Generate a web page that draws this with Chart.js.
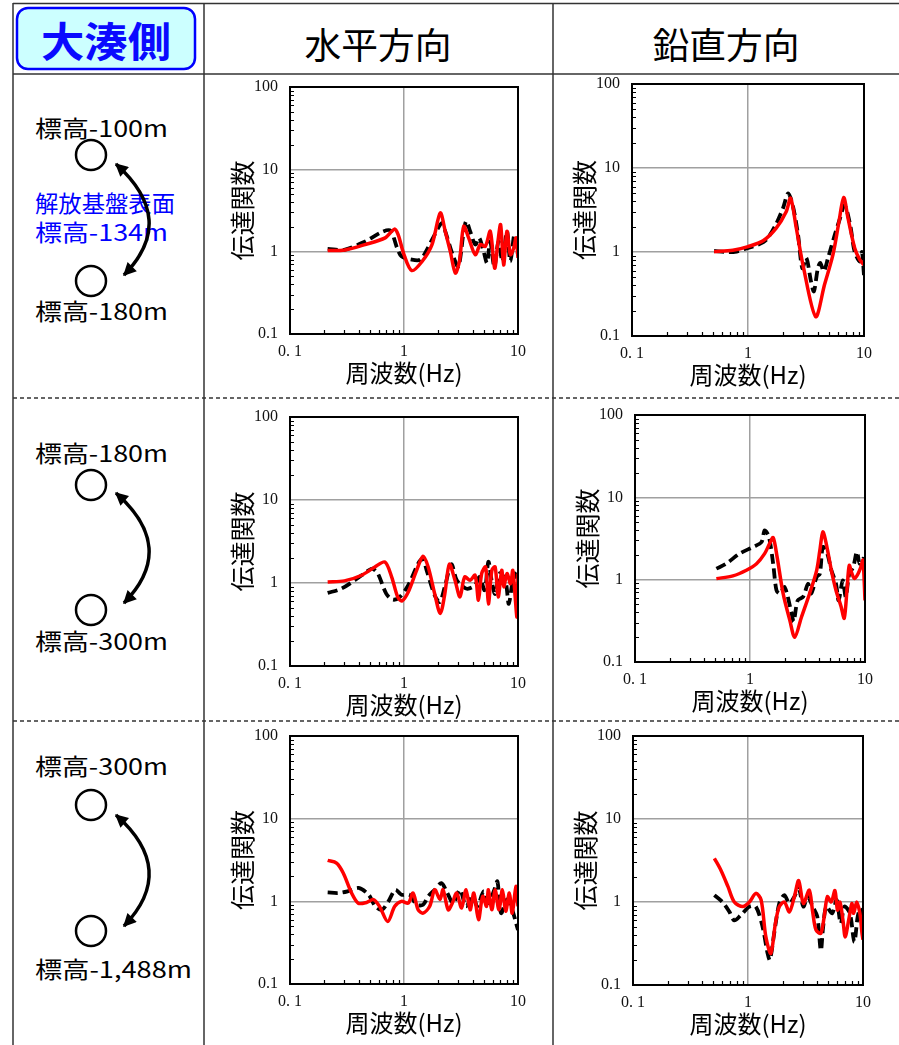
<!DOCTYPE html>
<html><head><meta charset="utf-8">
<script src="https://cdn.jsdelivr.net/npm/chart.js@4.4.0/dist/chart.umd.min.js"></script>
<style>
html,body{margin:0;padding:0;background:#fff;}
#page{position:relative;width:899px;height:1045px;overflow:hidden;background:#fff;}
svg text{font-family:"Noto Sans CJK JP","Noto Sans",sans-serif;}
</style></head>
<body><div id="page">
<svg width="899" height="1045" style="position:absolute;left:0;top:0">
<defs>
<marker id="ah" viewBox="0 0 10 10" refX="9" refY="5" markerWidth="14" markerHeight="13" markerUnits="userSpaceOnUse" orient="auto-start-reverse">
<path d="M0,0 L10,5 L0,10 z" fill="#000"/></marker>
</defs>
<g stroke="#333" stroke-width="1.5" fill="none">
<path d="M13,3.5 H899"/>
<path d="M13,3 V1045"/>
<path d="M204,3 V1045"/>
<path d="M553,3 V1045"/>
<path d="M13,74 H899"/>
<path d="M13,398 H899" stroke-dasharray="4 3"/>
<path d="M13,721 H899" stroke-dasharray="4 3"/>
</g>
<rect x="17" y="8" width="178" height="61" rx="11" ry="11" fill="#ccffff" stroke="#0000ff" stroke-width="2.5"/>
<text x="106" y="39" text-anchor="middle" dominant-baseline="central" font-size="41" font-weight="bold" fill="#0a0aff" textLength="130" lengthAdjust="spacingAndGlyphs">大湊側</text>
<text x="378" y="43" text-anchor="middle" dominant-baseline="central" font-size="36" fill="#000" textLength="147" lengthAdjust="spacingAndGlyphs">水平方向</text>
<text x="726" y="43" text-anchor="middle" dominant-baseline="central" font-size="36" fill="#000" textLength="147" lengthAdjust="spacingAndGlyphs">鉛直方向</text>

<g font-size="23" fill="#000">
<text x="35" y="137" textLength="133" lengthAdjust="spacingAndGlyphs">標高-100m</text>
<text x="35" y="212" fill="#0000ff" textLength="140" lengthAdjust="spacingAndGlyphs">解放基盤表面</text>
<text x="35" y="241" fill="#0000ff" textLength="133" lengthAdjust="spacingAndGlyphs">標高-134m</text>
<text x="35" y="320" textLength="133" lengthAdjust="spacingAndGlyphs">標高-180m</text>
<text x="35" y="462" textLength="133" lengthAdjust="spacingAndGlyphs">標高-180m</text>
<text x="35" y="650" textLength="133" lengthAdjust="spacingAndGlyphs">標高-300m</text>
<text x="35" y="775" textLength="133" lengthAdjust="spacingAndGlyphs">標高-300m</text>
<text x="35" y="978" textLength="157" lengthAdjust="spacingAndGlyphs">標高-1,488m</text>
</g>
<g fill="none" stroke="#000" stroke-width="2.5">
<circle cx="91" cy="155" r="15"/><circle cx="91" cy="281" r="15"/>
<circle cx="91" cy="485" r="15"/><circle cx="91" cy="610" r="15"/>
<circle cx="91" cy="805" r="15"/><circle cx="91" cy="931" r="15"/>
</g>
<g fill="none" stroke="#000" stroke-width="3.5">
<path d="M116,164 Q178,220 124,275" marker-start="url(#ah)" marker-end="url(#ah)"/>
<path d="M116,493 Q178,548 124,603" marker-start="url(#ah)" marker-end="url(#ah)"/>
<path d="M116,815 Q178,870 124,926" marker-start="url(#ah)" marker-end="url(#ah)"/>
</g>
</svg>
</div>
<script>
// ---- tick definitions ----
const xDecades = [0.1, 1, 10];
const yDecades = [0.1, 1, 10, 100];
const xTickLabels = ['0. 1', '1', '10'];
const yTickLabels = ['0.1', '1', '10', '100'];
const minorSteps = [2, 3, 4, 5, 6, 7, 8, 9];

// ---- Row 1 horizontal (標高-100m / -180m) ----
const h1RedF = [0.214,0.304,0.456,0.684,0.826,0.89,1.0,1.17,1.44,1.76,2.08,2.3,2.55,2.82,3.06,3.34,3.69,4.22,4.67,5.17,5.71,6.24,6.67,7.04,7.48,8.0,8.57,9.16,9.6,10];
const h1RedV = [1.03,1.05,1.22,1.47,1.88,1.6,0.92,0.59,0.76,1.22,2.95,1.77,1.0,0.55,0.76,2.03,1.47,0.92,1.22,1.16,1.77,0.63,1.33,2.13,0.69,1.77,0.92,1.1,1.47,0.84];
const h1BlkF = [0.214,0.304,0.456,0.64,0.76,0.87,0.95,1.17,1.39,1.59,1.86,2.15,2.3,2.7,3.0,3.34,3.52,3.8,4.22,4.56,5.0,5.35,5.7,6.2,6.75,7.3,8.0,8.57,9.3,10];
const h1BlkV = [1.08,1.06,1.33,1.73,1.8,1.11,0.88,0.8,0.8,1.06,1.61,2.23,1.77,0.88,0.66,1.77,2.34,1.77,1.22,1.47,1.0,0.73,1.33,0.66,1.33,0.76,1.77,0.76,1.61,0.92];

// ---- Row 1 vertical ----
const v1RedF = [0.51,0.74,1.0,1.35,1.75,2.14,2.33,2.61,2.98,3.83,4.57,5.4,6.09,6.68,7.28,8.32,9.19,10];
const v1RedV = [1.01,1.05,1.16,1.36,1.92,3.04,4.37,1.92,0.70,0.17,0.41,0.93,2.31,4.46,2.53,1.11,0.81,0.70];
const v1BlkF = [0.51,0.65,0.77,0.94,1.22,1.44,1.73,2.0,2.22,2.44,2.7,2.94,3.18,3.5,3.7,4.0,4.2,4.5,4.9,5.6,6.2,6.8,7.6,8.3,9.2,9.6,10];
const v1BlkV = [1.03,1.0,1.0,1.09,1.22,1.4,2.1,3.3,5.0,3.5,1.6,0.64,0.85,0.44,0.34,0.64,0.74,0.59,0.85,1.6,2.5,3.6,2.1,1.01,0.77,1.0,0.53];

// ---- Row 2 horizontal (標高-180m / -300m) ----
const h2RedF = [0.214,0.30,0.425,0.555,0.68,0.78,0.88,0.96,1.09,1.29,1.47,1.63,1.86,2.08,2.28,2.5,2.8,3.1,3.4,3.8,4.2,4.5,4.8,5.2,5.5,5.9,6.3,6.7,7.2,7.5,8.0,8.6,9.0,9.4,9.8,10];
const h2RedV = [1.03,1.06,1.24,1.56,1.79,1.18,0.68,0.61,0.78,1.42,2.1,1.56,0.74,0.43,0.74,1.68,1.08,0.68,1.18,1.08,1.24,0.62,1.3,1.56,0.56,1.42,1.56,0.68,1.42,0.9,1.3,0.98,1.42,0.74,0.39,1.3];
const h2BlkF = [0.214,0.28,0.37,0.49,0.53,0.59,0.70,0.80,0.92,1.09,1.33,1.46,1.58,1.86,2.06,2.28,2.6,2.9,3.3,3.6,4.2,4.6,5.1,5.5,5.9,6.3,6.9,7.5,7.9,8.3,8.9,9.4,10];
const h2BlkV = [0.76,0.85,1.08,1.42,1.49,1.3,0.74,0.63,0.68,0.94,1.71,1.96,1.42,0.71,0.59,0.9,1.68,1.08,0.9,0.85,0.94,1.18,0.82,1.8,1.03,0.74,1.3,1.18,0.94,0.56,0.98,1.3,0.9];

// ---- Row 2 vertical ----
const v2RedF = [0.51,0.71,0.93,1.14,1.34,1.48,1.59,1.72,1.94,2.22,2.45,2.8,3.3,3.8,4.05,4.3,4.6,5.1,5.6,6.2,6.6,7.0,7.3,7.7,8.1,8.7,9.2,9.6,10];
const v2RedV = [1.03,1.11,1.3,1.56,2.07,2.74,3.24,1.89,0.68,0.32,0.2,0.35,0.68,1.3,2.27,3.8,2.74,1.3,0.74,0.47,0.34,0.81,1.49,1.18,1.03,1.18,1.42,1.72,0.56];
const v2BlkF = [0.51,0.62,0.81,1.06,1.26,1.34,1.46,1.59,1.70,1.82,2.0,2.3,2.4,2.6,2.9,3.2,3.4,3.8,4.05,4.3,4.7,5.1,5.6,5.9,6.4,6.8,7.3,7.9,8.5,9.0,9.6,10];
const v2BlkV = [1.36,1.56,2.07,2.49,2.87,3.97,3.3,1.56,0.74,0.68,0.81,0.39,0.31,0.56,0.62,0.89,0.68,1.08,1.18,2.49,2.07,1.3,0.89,0.56,0.98,0.62,1.18,1.42,2.17,1.56,1.8,1.3];

// ---- Row 3 horizontal (標高-300m / -1,488m) ----
const h3RedF = [0.214,0.256,0.293,0.347,0.397,0.47,0.54,0.61,0.72,0.83,0.95,1.09,1.2,1.33,1.47,1.68,1.86,2.07,2.2,2.44,2.65,2.9,3.2,3.5,3.8,4.1,4.5,4.9,5.3,5.5,5.9,6.3,6.8,7.3,7.8,8.4,8.9,9.6,10];
const h3RedV = [3.13,2.9,2.2,1.26,0.95,0.97,1.05,0.87,0.57,0.87,1.0,0.95,1.26,0.79,0.72,0.87,1.38,1.05,1.38,0.79,0.95,1.26,0.83,1.38,0.79,1.26,0.6,1.15,0.87,1.38,0.79,1.38,0.79,1.38,0.76,1.26,0.72,1.52,0.87];
const h3BlkF = [0.214,0.265,0.32,0.40,0.49,0.56,0.64,0.73,0.84,0.95,1.12,1.29,1.47,1.63,1.86,2.13,2.4,2.7,3.1,3.5,4.0,4.4,5.0,5.5,6.2,6.6,7.1,8.0,8.8,9.6,10];
const h3BlkV = [1.28,1.26,1.32,1.45,1.2,0.87,0.79,1.0,1.38,1.2,1.2,0.91,0.91,1.15,1.38,1.66,1.26,0.95,1.38,0.87,1.15,0.87,1.32,0.95,1.38,1.74,0.72,1.05,0.83,0.55,0.45];

// ---- Row 3 vertical ----
const v3RedF = [0.51,0.58,0.67,0.76,0.90,1.03,1.17,1.30,1.43,1.58,1.73,1.87,2.07,2.29,2.53,2.76,3.03,3.41,3.65,3.9,4.3,4.6,4.9,5.3,5.7,6.0,6.3,6.7,7.0,7.5,8.0,8.3,8.8,9.4,9.8,10];
const v3RedV = [3.36,2.43,1.53,1.0,0.88,1.0,1.27,1.06,0.38,0.24,0.55,0.88,1.0,0.76,1.16,1.81,0.96,1.39,0.76,0.46,0.42,0.67,1.16,1.0,1.37,0.8,1.0,0.6,0.38,0.6,0.96,0.73,1.0,0.73,0.42,0.35];
const v3BlkF = [0.51,0.60,0.69,0.76,0.87,1.03,1.17,1.34,1.48,1.55,1.69,1.87,2.07,2.29,2.53,2.76,3.03,3.3,3.65,4.0,4.3,4.5,4.8,5.4,5.9,6.4,6.9,7.7,8.4,9.0,9.5,10];
const v3BlkV = [1.21,1.0,0.76,0.6,0.7,0.88,0.88,0.5,0.24,0.2,0.42,0.96,1.21,0.96,1.16,1.46,0.88,1.16,0.88,0.67,0.26,0.5,0.88,0.73,1.06,0.55,0.88,0.73,0.33,0.67,0.84,0.61];

// ---- helpers ----
const zip = (f, v) => f.map((x, i) => ({x: x, y: v[i]}));
function tickValues(decades) {
  const out = [];
  decades.forEach((d, i) => {
    out.push(d);
    if (i < decades.length - 1) minorSteps.forEach(m => out.push(+(d * m).toPrecision(6)));
  });
  return out;
}
const isDecade = (v, decades) => decades.some(d => Math.abs(v - d) < d * 1e-6);

const CJK = '"Noto Sans CJK JP", "Noto Sans", sans-serif';
const SERIF = '"Liberation Serif", "DejaVu Serif", serif';

const framePlugin = {
  id: 'frame',
  afterDraw(chart) {
    const {ctx, chartArea: {left, right, top, bottom}, scales: {x, y}} = chart;
    ctx.save();
    ctx.strokeStyle = '#000';
    ctx.lineWidth = 1.2;
    ctx.beginPath();
    tickValues(xDecades).forEach(v => {
      if (isDecade(v, xDecades)) return;
      const px = Math.round(x.getPixelForValue(v)) + 0.5;
      ctx.moveTo(px, bottom); ctx.lineTo(px, bottom - 4);
    });
    tickValues(yDecades).forEach(v => {
      if (isDecade(v, yDecades)) return;
      const py = Math.round(y.getPixelForValue(v)) + 0.5;
      ctx.moveTo(left, py); ctx.lineTo(left + 4, py);
    });
    ctx.stroke();
    ctx.lineWidth = 2;
    ctx.strokeRect(left, top, right - left, bottom - top);
    ctx.restore();
  }
};

const PADL = 85, PADT = 12, PADR = 20, XH = 62;

function makeChart(area, redF, redV, blkF, blkV) {
  const canvas = document.createElement('canvas');
  const w = area.r - area.l + PADL + PADR;
  const h = area.b - area.t + PADT + XH;
  canvas.width = w; canvas.height = h;
  canvas.style.cssText = 'position:absolute;left:' + (area.l - PADL) + 'px;top:' + (area.t - PADT) + 'px;width:' + w + 'px;height:' + h + 'px;';
  document.getElementById('page').appendChild(canvas);
  new Chart(canvas, {
    type: 'line',
    data: {
      datasets: [
        {label: '理論', data: zip(redF, redV), borderColor: '#ff0000', borderWidth: 3.5,
         pointRadius: 0, tension: 0.3, fill: false},
        {label: '観測', data: zip(blkF, blkV), borderColor: '#000000', borderWidth: 3.8,
         borderDash: [10, 5], pointRadius: 0, tension: 0.3, fill: false}
      ]
    },
    options: {
      responsive: false, animation: false, devicePixelRatio: 1,
      layout: {padding: {top: PADT, right: PADR, left: 0, bottom: 0}},
      plugins: {legend: {display: false}, tooltip: {enabled: false}},
      scales: {
        x: {
          type: 'logarithmic', min: 0.1, max: 10,
          afterBuildTicks: s => { s.ticks = tickValues(xDecades).map(v => ({value: v})); },
          afterFit: s => { s.height = XH; s.paddingLeft = 0; s.paddingRight = 0; },
          ticks: {
            autoSkip: false, maxRotation: 0, minRotation: 0, padding: 8, color: '#111',
            font: {family: SERIF, size: 16},
            callback: v => { const i = xDecades.findIndex(d => Math.abs(v - d) < d * 1e-6); return i >= 0 ? xTickLabels[i] : ''; }
          },
          grid: {
            drawTicks: false, lineWidth: 1.5,
            color: c => (c.tick && isDecade(c.tick.value, xDecades)) ? '#a0a0a0' : 'rgba(0,0,0,0)'
          },
          border: {display: false},
          title: {display: true, text: '周波数(Hz)', color: '#000', font: {family: CJK, size: 24}, padding: {top: 0, bottom: 9}}
        },
        y: {
          type: 'logarithmic', min: 0.1, max: 100,
          afterBuildTicks: s => { s.ticks = tickValues(yDecades).map(v => ({value: v})); },
          afterFit: s => { s.width = PADL; s.paddingTop = 0; s.paddingBottom = 0; },
          ticks: {
            autoSkip: false, padding: 12, color: '#111',
            font: {family: SERIF, size: 16},
            callback: v => { const i = yDecades.findIndex(d => Math.abs(v - d) < d * 1e-6); return i >= 0 ? yTickLabels[i] : ''; }
          },
          grid: {
            drawTicks: false, lineWidth: 1.5,
            color: c => (c.tick && isDecade(c.tick.value, yDecades)) ? '#a0a0a0' : 'rgba(0,0,0,0)'
          },
          border: {display: false},
          title: {display: true, text: '伝達関数', color: '#000', font: {family: CJK, size: 25}, padding: {top: 22, bottom: 0}}
        }
      }
    },
    plugins: [framePlugin]
  });
}

makeChart({l: 290, r: 518, t: 87, b: 334}, h1RedF, h1RedV, h1BlkF, h1BlkV);
makeChart({l: 632, r: 864, t: 84, b: 336}, v1RedF, v1RedV, v1BlkF, v1BlkV);
makeChart({l: 290, r: 518, t: 417, b: 666}, h2RedF, h2RedV, h2BlkF, h2BlkV);
makeChart({l: 635, r: 865, t: 415, b: 662}, v2RedF, v2RedV, v2BlkF, v2BlkV);
makeChart({l: 290, r: 518, t: 736, b: 984}, h3RedF, h3RedV, h3BlkF, h3BlkV);
makeChart({l: 633, r: 863, t: 736, b: 985}, v3RedF, v3RedV, v3BlkF, v3BlkV);
</script>
</body></html>
